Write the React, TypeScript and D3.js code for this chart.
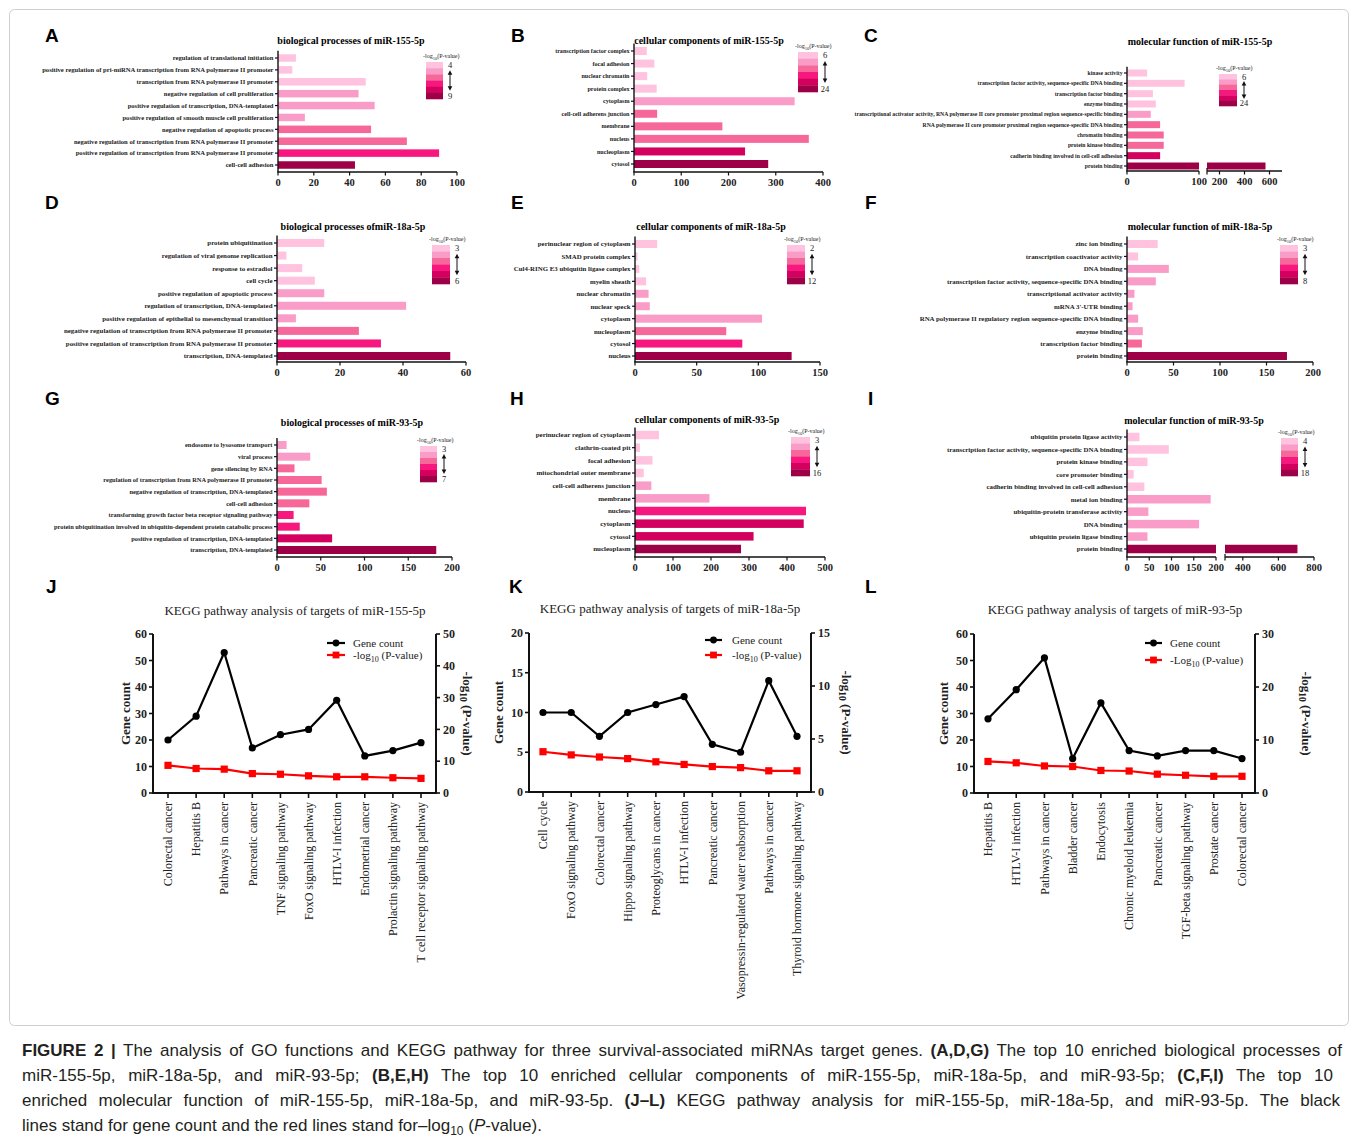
import React, { useLayoutEffect, useRef, useState } from 'react';
import * as d3 from 'd3';

const SERIF = '"Liberation Serif", "Times New Roman", Times, serif';
const SANS = '"Liberation Sans", Arial, Helvetica, sans-serif';
// six shades of the -log10(P) legend, light -> dark
const PINKS = ['#FFC3E0', '#F99CC8', '#F7689A', '#F8177F', '#D3005F', '#9E0047'];

// A - biological processes of miR-155-5p
const bp155Terms = [
  'regulation of translational initiation',
  'positive regulation of pri-miRNA transcription from RNA polymerase II promoter',
  'transcription from RNA polymerase II promoter',
  'negative regulation of cell proliferation',
  'positive regulation of transcription, DNA-templated',
  'positive regulation of smooth muscle cell proliferation',
  'negative regulation of apoptotic process',
  'negative regulation of transcription from RNA polymerase II promoter',
  'positive regulation of transcription from RNA polymerase II promoter',
  'cell-cell adhesion',
];
const bp155Counts = [10, 8, 49, 45, 54, 15, 52, 72, 90, 43];
const bp155Levels = [0, 0, 0, 1, 1, 1, 2, 2, 3, 5];
const bp155Range = ['4', '9'];

// B - cellular components of miR-155-5p
const cc155Terms = [
  'transcription factor complex',
  'focal adhesion',
  'nuclear chromatin',
  'protein complex',
  'cytoplasm',
  'cell-cell adherens junction',
  'membrane',
  'nucleus',
  'nucleoplasm',
  'cytosol',
];
const cc155Counts = [27, 43, 28, 48, 340, 49, 187, 370, 235, 284];
const cc155Levels = [0, 0, 0, 0, 1, 2, 2, 2, 4, 5];
const cc155Range = ['6', '24'];

// C - molecular function of miR-155-5p
const mf155Terms = [
  'kinase activity',
  'transcription factor activity, sequence-specific DNA binding',
  'transcription factor binding',
  'enzyme binding',
  'transcriptional activator activity, RNA polymerase II core promoter proximal region sequence-specific binding',
  'RNA polymerase II core promoter proximal region sequence-specific DNA binding',
  'chromatin binding',
  'protein kinase binding',
  'cadherin binding involved in cell-cell adhesion',
  'protein binding',
];
const mf155Counts = [28, 80, 36, 40, 33, 46, 51, 51, 46, 568];
const mf155Levels = [0, 0, 0, 0, 1, 2, 2, 2, 4, 5];
const mf155Range = ['6', '24'];

// D - biological processes of miR-18a-5p
const bp18aTerms = [
  'protein ubiquitination',
  'regulation of viral genome replication',
  'response to estradiol',
  'cell cycle',
  'positive regulation of apoptotic process',
  'regulation of transcription, DNA-templated',
  'positive regulation of epithelial to mesenchymal transition',
  'negative regulation of transcription from RNA polymerase II promoter',
  'positive regulation of transcription from RNA polymerase II promoter',
  'transcription, DNA-templated',
];
const bp18aCounts = [15, 3, 8, 12, 15, 41, 6, 26, 33, 55];
const bp18aLevels = [0, 0, 0, 0, 1, 1, 1, 2, 3, 5];
const bp18aRange = ['3', '6'];

// E - cellular components of miR-18a-5p
const cc18aTerms = [
  'perinuclear region of cytoplasm',
  'SMAD protein complex',
  'Cul4-RING E3 ubiquitin ligase complex',
  'myelin sheath',
  'nuclear chromatin',
  'nuclear speck',
  'cytoplasm',
  'nucleoplasm',
  'cytosol',
  'nucleus',
];
const cc18aCounts = [18, 2, 3.5, 9, 11, 12, 103, 74, 87, 127];
const cc18aLevels = [0, 0, 0, 0, 1, 1, 1, 2, 3, 5];
const cc18aRange = ['2', '12'];

// F - molecular function of miR-18a-5p
const mf18aTerms = [
  'zinc ion binding',
  'transcription coactivator activity',
  'DNA binding',
  'transcription factor activity, sequence-specific DNA binding',
  'transcriptional activator activity',
  "mRNA 3'-UTR binding",
  'RNA polymerase II regulatory region sequence-specific DNA binding',
  'enzyme binding',
  'transcription factor binding',
  'protein binding',
];
const mf18aCounts = [33, 12, 45, 31, 8, 6, 12, 17, 16, 172];
const mf18aLevels = [0, 0, 1, 1, 1, 1, 1, 1, 2, 5];
const mf18aRange = ['3', '8'];

// G - biological processes of miR-93-5p
const bp93Terms = [
  'endosome to lysosome transport',
  'viral process',
  'gene silencing by RNA',
  'regulation of transcription from RNA polymerase II promoter',
  'negative regulation of transcription, DNA-templated',
  'cell-cell adhesion',
  'transforming growth factor beta receptor signaling pathway',
  'protein ubiquitination involved in ubiquitin-dependent protein catabolic process',
  'positive regulation of transcription, DNA-templated',
  'transcription, DNA-templated',
];
const bp93Counts = [11, 38, 20, 51, 57, 37, 19, 26, 63, 182];
const bp93Levels = [1, 1, 2, 2, 2, 2, 3, 3, 4, 5];
const bp93Range = ['3', '7'];

// H - cellular components of miR-93-5p
const cc93Terms = [
  'perinuclear region of cytoplasm',
  'clathrin-coated pit',
  'focal adhesion',
  'mitochondrial outer membrane',
  'cell-cell adherens junction',
  'membrane',
  'nucleus',
  'cytoplasm',
  'cytosol',
  'nucleoplasm',
];
const cc93Counts = [63, 13, 46, 23, 43, 196, 450, 444, 312, 279];
const cc93Levels = [0, 0, 0, 0, 1, 1, 3, 4, 4, 5];
const cc93Range = ['3', '16'];

// I - molecular function of miR-93-5p
const mf93Terms = [
  'ubiquitin protein ligase activity',
  'transcription factor activity, sequence-specific DNA binding',
  'protein kinase binding',
  'core promoter binding',
  'cadherin binding involved in cell-cell adhesion',
  'metal ion binding',
  'ubiquitin-protein transferase activity',
  'DNA binding',
  'ubiquitin protein ligase binding',
  'protein binding',
];
const mf93Counts = [28, 94, 46, 15, 39, 188, 48, 162, 46, 707];
const mf93Levels = [0, 0, 0, 0, 0, 1, 1, 1, 1, 5];
const mf93Range = ['4', '18'];

// J-L - KEGG pathways
const kegg155Pathways = [
  'Colorectal cancer', 'Hepatitis B', 'Pathways in cancer', 'Pancreatic cancer',
  'TNF signaling pathway', 'FoxO signaling pathway', 'HTLV-I infection',
  'Endometrial cancer', 'Prolactin signaling pathway', 'T cell receptor signaling pathway',
];
const kegg155Genes = [20, 29, 53, 17, 22, 24, 35, 14, 16, 19];
const kegg155LogP = [8.7, 7.7, 7.5, 6.1, 5.9, 5.4, 5.1, 5.1, 4.8, 4.6];

const kegg18aPathways = [
  'Cell cycle', 'FoxO signaling pathway', 'Colorectal cancer', 'Hippo signaling pathway',
  'Proteoglycans in cancer', 'HTLV-I infection', 'Pancreatic cancer',
  'Vasopressin-regulated water reabsorption', 'Pathways in cancer', 'Thyroid hormone signaling pathway',
];
const kegg18aGenes = [10, 10, 7, 10, 11, 12, 6, 5, 14, 7];
const kegg18aLogP = [3.8, 3.5, 3.3, 3.15, 2.85, 2.6, 2.4, 2.3, 2.0, 2.0];

const kegg93Pathways = [
  'Hepatitis B', 'HTLV-I infection', 'Pathways in cancer', 'Bladder cancer', 'Endocytosis',
  'Chronic myeloid leukemia', 'Pancreatic cancer', 'TGF-beta signaling pathway',
  'Prostate cancer', 'Colorectal cancer',
];
const kegg93Genes = [28, 39, 51, 13, 34, 16, 14, 16, 16, 13];
const kegg93LogP = [5.95, 5.7, 5.1, 5.0, 4.25, 4.15, 3.55, 3.35, 3.15, 3.15];

function BarPanel({ c }: { c: any }) {
  const n = c.terms.length;
  const y = d3.scalePoint<string>().domain(c.terms).range([c.y0, c.y1]);
  const step = (c.y1 - c.y0) / (n - 1);
  const segs = c.segs.map((s: any) => ({ ...s, sc: d3.scaleLinear().domain(s.domain).range(s.range) }));
  const ax = segs[0].range[0];
  const [lx0, lx1, ly0, ly1] = c.legend;
  const sh = (ly1 - ly0) / PINKS.length;
  const colX = lx1 + 7;
  const aTop = ly0 + sh * 1.5;
  const aBot = ly1 - sh * 1.5;
  return (
    <g>
      <text x={c.letter[0]} y={c.letter[1]} fontFamily={SANS} fontWeight="bold" fontSize={19}>{c.id}</text>
      <text x={c.titleX} y={c.titleY} textAnchor="middle" fontFamily={SERIF} fontWeight="bold" fontSize={10}>
        {c.title}
      </text>
      {c.terms.map((t: string, i: number) =>
        segs.map((s: any, j: number) => {
          const v = c.counts[i];
          if (v <= s.domain[0]) return null;
          const x0 = s.sc(s.domain[0]);
          const x1 = s.sc(Math.min(v, s.domain[1]));
          return (
            <rect key={i + '-' + j} x={x0} y={(y(t) as number) - c.barH / 2} width={x1 - x0} height={c.barH}
              fill={PINKS[c.levels[i]]} />
          );
        })
      )}
      <line x1={ax} x2={ax} y1={c.y0 - step * 0.6} y2={c.base} stroke="#111" strokeWidth={1.4} />
      {c.terms.map((t: string) => (
        <g key={t}>
          <line x1={ax - 3} x2={ax} y1={y(t)} y2={y(t)} stroke="#111" strokeWidth={1.2} />
          <text x={ax - 4.5} y={y(t)} dy="0.35em" textAnchor="end" fontFamily={SERIF} fontWeight="bold"
            fontSize={c.fs} fill="#222">{t}</text>
        </g>
      ))}
      {segs.map((s: any, j: number) => (
        <g key={'ax' + j}>
          <line x1={s.range[0] - (j === 0 ? 0.7 : 0)} x2={s.range[1]} y1={c.base} y2={c.base} stroke="#111" strokeWidth={1.4} />
          {s.startTick && <line x1={s.range[0]} x2={s.range[0]} y1={c.base - 3} y2={c.base + 3.5} stroke="#111" strokeWidth={1.2} />}
          {s.ticks.map((tv: number) => (
            <g key={tv}>
              <line x1={s.sc(tv)} x2={s.sc(tv)} y1={c.base} y2={c.base + 3.5} stroke="#111" strokeWidth={1.2} />
              <text x={s.sc(tv)} y={c.base + 13.5} textAnchor="middle" fontFamily={SERIF} fontWeight="bold"
                fontSize={10.5} fill="#222">{tv}</text>
            </g>
          ))}
        </g>
      ))}
      <text x={lx0 - 3} y={ly0 - 4} fontFamily={SERIF} fontSize={6} fill="#222">
        -log<tspan dy={1.5} fontSize={4.5}>10</tspan><tspan dy={-1.5}>(P-value)</tspan>
      </text>
      {PINKS.map((col, k) => (
        <rect key={col} x={lx0} y={ly0 + k * sh} width={lx1 - lx0} height={sh + 0.3} fill={col} />
      ))}
      <text x={colX} y={ly0 + sh * 0.5} dy="0.35em" textAnchor="middle" fontFamily={SERIF} fontSize={8.5} fill="#222">{c.range[0]}</text>
      <text x={colX} y={ly1 - sh * 0.5} dy="0.35em" textAnchor="middle" fontFamily={SERIF} fontSize={8.5} fill="#222">{c.range[1]}</text>
      <line x1={colX} x2={colX} y1={aTop + 2} y2={aBot - 2} stroke="#111" strokeWidth={1} />
      <path d={`M${colX - 2.3},${aTop + 3.5} L${colX},${aTop - 1} L${colX + 2.3},${aTop + 3.5} Z`} fill="#111" />
      <path d={`M${colX - 2.3},${aBot - 3.5} L${colX},${aBot + 1} L${colX + 2.3},${aBot - 3.5} Z`} fill="#111" />
    </g>
  );
}

function KeggPanel({ c }: { c: any }) {
  const x = d3.scalePoint<string>().domain(c.pathways).range([c.first, c.last]);
  const yL = d3.scaleLinear().domain([0, c.leftMax]).range([c.base, c.top]);
  const yR = d3.scaleLinear().domain([0, c.rightMax]).range([c.base, c.top]);
  const px = (i: number) => x(c.pathways[i]) as number;
  const genePath = d3.line<number>().x((_, i) => px(i)).y((d) => yL(d))(c.genes) || '';
  const pPath = d3.line<number>().x((_, i) => px(i)).y((d) => yR(d))(c.logp) || '';
  const mid = (c.base + c.top) / 2;
  const [gx0, gx1] = c.legX;
  const gm = (gx0 + gx1) / 2;
  return (
    <g>
      <text x={c.letter[0]} y={c.letter[1]} fontFamily={SANS} fontWeight="bold" fontSize={19}>{c.id}</text>
      <text x={c.titleX} y={c.titleY} textAnchor="middle" fontFamily={SERIF} fontSize={13} fill="#222">{c.title}</text>

      <line x1={c.axL} x2={c.axL} y1={c.top} y2={c.base} stroke="#111" strokeWidth={2} />
      {d3.range(0, c.leftMax + 0.001, c.leftStep).map((v: number) => (
        <g key={'l' + v}>
          <line x1={c.axL - 4} x2={c.axL} y1={yL(v)} y2={yL(v)} stroke="#111" strokeWidth={1.6} />
          <text x={c.axL - 6} y={yL(v)} dy="0.35em" textAnchor="end" fontFamily={SERIF} fontWeight="bold" fontSize={12} fill="#222">{v}</text>
        </g>
      ))}
      <line x1={c.axR} x2={c.axR} y1={c.top} y2={c.base} stroke="#111" strokeWidth={2} />
      {d3.range(0, c.rightMax + 0.001, c.rightStep).map((v: number) => (
        <g key={'r' + v}>
          <line x1={c.axR} x2={c.axR + 4} y1={yR(v)} y2={yR(v)} stroke="#111" strokeWidth={1.6} />
          <text x={c.axR + 7} y={yR(v)} dy="0.35em" textAnchor="start" fontFamily={SERIF} fontWeight="bold" fontSize={12} fill="#222">{v}</text>
        </g>
      ))}
      <line x1={c.axL - 1} x2={c.axR + 1} y1={c.base} y2={c.base} stroke="#111" strokeWidth={2} />
      {c.pathways.map((p: string, i: number) => (
        <g key={p}>
          <line x1={px(i)} x2={px(i)} y1={c.base} y2={c.base + 5} stroke="#111" strokeWidth={1.6} />
          <text transform={`translate(${px(i)},${c.base + 9}) rotate(-90)`} dy="0.35em" textAnchor="end"
            fontFamily={SERIF} fontSize={12} fill="#222">{p}</text>
        </g>
      ))}

      <path d={pPath} fill="none" stroke="#FF0000" strokeWidth={2.2} />
      {c.logp.map((v: number, i: number) => (
        <rect key={'s' + i} x={px(i) - 3.6} y={yR(v) - 3.6} width={7.2} height={7.2} fill="#FF0000" />
      ))}
      <path d={genePath} fill="none" stroke="#000" strokeWidth={2.2} />
      {c.genes.map((v: number, i: number) => (
        <circle key={'c' + i} cx={px(i)} cy={yL(v)} r={3.6} fill="#000" />
      ))}

      <line x1={gx0} x2={gx1} y1={c.legY[0]} y2={c.legY[0]} stroke="#000" strokeWidth={2.2} />
      <circle cx={gm} cy={c.legY[0]} r={3.4} fill="#000" />
      <text x={c.legTextX} y={c.legY[0]} dy="0.35em" fontFamily={SERIF} fontSize={11} fill="#222">Gene count</text>
      <line x1={gx0} x2={gx1} y1={c.legY[1]} y2={c.legY[1]} stroke="#FF0000" strokeWidth={2.2} />
      <rect x={gm - 3.4} y={c.legY[1] - 3.4} width={6.8} height={6.8} fill="#FF0000" />
      <text x={c.legTextX} y={c.legY[1]} dy="0.35em" fontFamily={SERIF} fontSize={11} fill="#222">
        {c.logWord}<tspan dy={3} fontSize={8}>10</tspan><tspan dy={-3}> (P-value)</tspan>
      </text>

      <text transform={`translate(${c.yLabX},${mid}) rotate(-90)`} dy="0.35em" textAnchor="middle"
        fontFamily={SERIF} fontWeight="bold" fontSize={13} fill="#222">Gene count</text>
      <text transform={`translate(${c.rLabX},${mid}) rotate(90)`} dy="0.35em" textAnchor="middle"
        fontFamily={SERIF} fontWeight="bold" fontSize={13} fill="#222">
        -log<tspan dy={3} fontSize={9.5}>10</tspan><tspan dy={-3}> (P-value)</tspan>
      </text>
    </g>
  );
}

const lin = (domain: number[], range: number[], ticks: number[], startTick = false) => ({ domain, range, ticks, startTick });

export default function App() {
  const capRefs = useRef<(SVGTextElement | null)[]>([]);
  const [wordSp, setWordSp] = useState<number[]>([0, 0, 0]);
  useLayoutEffect(() => {
    // justify the first three caption lines with word spacing
    const targets = [1320, 1311, 1318];
    const next = targets.map((w, i) => {
      const el = capRefs.current[i];
      if (!el) return 0;
      const len = el.getComputedTextLength();
      const spaces = (el.textContent || '').split(' ').length - 1;
      return spaces > 0 ? Math.max(0, (w - len) / spaces) : 0;
    });
    setWordSp(next);
  }, []);

  const bars = [
    { id: 'A', letter: [45, 42], title: 'biological processes of miR-155-5p', titleX: 351, titleY: 44,
      terms: bp155Terms, counts: bp155Counts, levels: bp155Levels, range: bp155Range,
      segs: [lin([0, 100], [278, 457], d3.range(0, 101, 20))], y0: 58, y1: 165, base: 172, barH: 7.5, fs: 6.6,
      legend: [426, 443, 62, 99] },
    { id: 'B', letter: [511, 42], title: 'cellular components of miR-155-5p', titleX: 709, titleY: 44,
      terms: cc155Terms, counts: cc155Counts, levels: cc155Levels, range: cc155Range,
      segs: [lin([0, 400], [634, 823], d3.range(0, 401, 100))], y0: 51, y1: 164, base: 172, barH: 8, fs: 6.1,
      legend: [798, 818, 52, 92] },
    { id: 'C', letter: [864, 42], title: 'molecular function of miR-155-5p', titleX: 1200, titleY: 45,
      terms: mf155Terms, counts: mf155Counts, levels: mf155Levels, range: mf155Range,
      segs: [lin([0, 100], [1127, 1199], [0, 100]), lin([100, 700], [1207, 1282], [200, 400, 600], true)],
      y0: 73, y1: 166, base: 171, barH: 7, fs: 5.7, legend: [1219, 1237, 74, 106] },
    { id: 'D', letter: [45, 209], title: 'biological processes ofmiR-18a-5p', titleX: 353, titleY: 230,
      terms: bp18aTerms, counts: bp18aCounts, levels: bp18aLevels, range: bp18aRange,
      segs: [lin([0, 60], [277, 466], [0, 20, 40, 60])], y0: 243, y1: 356, base: 362, barH: 8, fs: 6.9,
      legend: [432, 450, 245, 284] },
    { id: 'E', letter: [511, 209], title: 'cellular components of miR-18a-5p', titleX: 711, titleY: 230,
      terms: cc18aTerms, counts: cc18aCounts, levels: cc18aLevels, range: cc18aRange,
      segs: [lin([0, 150], [635, 820], [0, 50, 100, 150])], y0: 244, y1: 356, base: 362, barH: 8, fs: 6.85,
      legend: [787, 805, 245, 284] },
    { id: 'F', letter: [865, 209], title: 'molecular function of miR-18a-5p', titleX: 1200, titleY: 230,
      terms: mf18aTerms, counts: mf18aCounts, levels: mf18aLevels, range: mf18aRange,
      segs: [lin([0, 200], [1127, 1313], d3.range(0, 201, 50))], y0: 244, y1: 356, base: 362, barH: 8, fs: 6.9,
      legend: [1280, 1298, 245, 284] },
    { id: 'G', letter: [45, 405], title: 'biological processes of miR-93-5p', titleX: 352, titleY: 426,
      terms: bp93Terms, counts: bp93Counts, levels: bp93Levels, range: bp93Range,
      segs: [lin([0, 200], [277, 452], d3.range(0, 201, 50))], y0: 445, y1: 550, base: 557, barH: 8, fs: 6.4,
      legend: [420, 437, 446, 482] },
    { id: 'H', letter: [510, 405], title: 'cellular components of miR-93-5p', titleX: 707, titleY: 423,
      terms: cc93Terms, counts: cc93Counts, levels: cc93Levels, range: cc93Range,
      segs: [lin([0, 500], [635, 825], d3.range(0, 501, 100))], y0: 435, y1: 549, base: 557, barH: 8.5, fs: 7,
      legend: [791, 810, 437, 476] },
    { id: 'I', letter: [868, 405], title: 'molecular function of miR-93-5p', titleX: 1194, titleY: 424,
      terms: mf93Terms, counts: mf93Counts, levels: mf93Levels, range: mf93Range,
      segs: [lin([0, 200], [1127, 1216], d3.range(0, 201, 50)), lin([300, 800], [1225, 1314], [400, 600, 800], true)],
      y0: 437, y1: 549, base: 557, barH: 8.5, fs: 6.9, legend: [1281, 1298, 438, 476] },
  ];

  const keggs = [
    { id: 'J', letter: [46, 593], title: 'KEGG pathway analysis of targets of miR-155-5p', titleX: 295, titleY: 615,
      pathways: kegg155Pathways, genes: kegg155Genes, logp: kegg155LogP,
      axL: 153, axR: 436, base: 793, top: 634, first: 168, last: 421,
      leftMax: 60, leftStep: 10, rightMax: 50, rightStep: 10,
      legX: [327, 345], legY: [643, 655], legTextX: 353, logWord: '-log', yLabX: 125, rLabX: 468 },
    { id: 'K', letter: [509, 593], title: 'KEGG pathway analysis of targets of miR-18a-5p', titleX: 670, titleY: 613,
      pathways: kegg18aPathways, genes: kegg18aGenes, logp: kegg18aLogP,
      axL: 529, axR: 811, base: 792, top: 633, first: 543, last: 797,
      leftMax: 20, leftStep: 5, rightMax: 15, rightStep: 5,
      legX: [705, 722], legY: [640, 655], legTextX: 732, logWord: '-log', yLabX: 498, rLabX: 847 },
    { id: 'L', letter: [865, 593], title: 'KEGG pathway analysis of targets of miR-93-5p', titleX: 1115, titleY: 614,
      pathways: kegg93Pathways, genes: kegg93Genes, logp: kegg93LogP,
      axL: 974, axR: 1255, base: 793, top: 634, first: 988, last: 1242,
      leftMax: 60, leftStep: 10, rightMax: 30, rightStep: 10,
      legX: [1145, 1162], legY: [643, 660], legTextX: 1170, logWord: '-Log', yLabX: 943, rLabX: 1307 },
  ];

  const capStyle = { fontFamily: SANS, fontSize: 17, fill: '#231F20' } as const;
  return (
    <svg width={1358} height={1142} style={{ position: 'absolute', left: 0, top: 0, background: '#fff' }}>
      <rect x={9.5} y={9.5} width={1339} height={1016} rx={5} fill="none" stroke="#cfcfcf" strokeWidth={1} />
      {bars.map((c) => <BarPanel key={c.id} c={c} />)}
      {keggs.map((c) => <KeggPanel key={c.id} c={c} />)}

      <text ref={(el) => { capRefs.current[0] = el; }} x={22} y={1056} wordSpacing={wordSp[0]} {...capStyle}>
        <tspan fontWeight="bold">FIGURE 2 |</tspan> The analysis of GO functions and KEGG pathway for three survival-associated miRNAs target genes. <tspan fontWeight="bold">(A,D,G)</tspan> The top 10 enriched biological processes of
      </text>
      <text ref={(el) => { capRefs.current[1] = el; }} x={22} y={1081} wordSpacing={wordSp[1]} {...capStyle}>
        miR-155-5p, miR-18a-5p, and miR-93-5p; <tspan fontWeight="bold">(B,E,H)</tspan> The top 10 enriched cellular components of miR-155-5p, miR-18a-5p, and miR-93-5p; <tspan fontWeight="bold">(C,F,I)</tspan> The top 10
      </text>
      <text ref={(el) => { capRefs.current[2] = el; }} x={22} y={1106} wordSpacing={wordSp[2]} {...capStyle}>
        enriched molecular function of miR-155-5p, miR-18a-5p, and miR-93-5p. <tspan fontWeight="bold">(J–L)</tspan> KEGG pathway analysis for miR-155-5p, miR-18a-5p, and miR-93-5p. The black
      </text>
      <text x={22} y={1131} {...capStyle}>
        lines stand for gene count and the red lines stand for–log<tspan dy={4} fontSize={12}>10</tspan><tspan dy={-4}> (</tspan><tspan fontStyle="italic">P</tspan>-value).
      </text>
    </svg>
  );
}
